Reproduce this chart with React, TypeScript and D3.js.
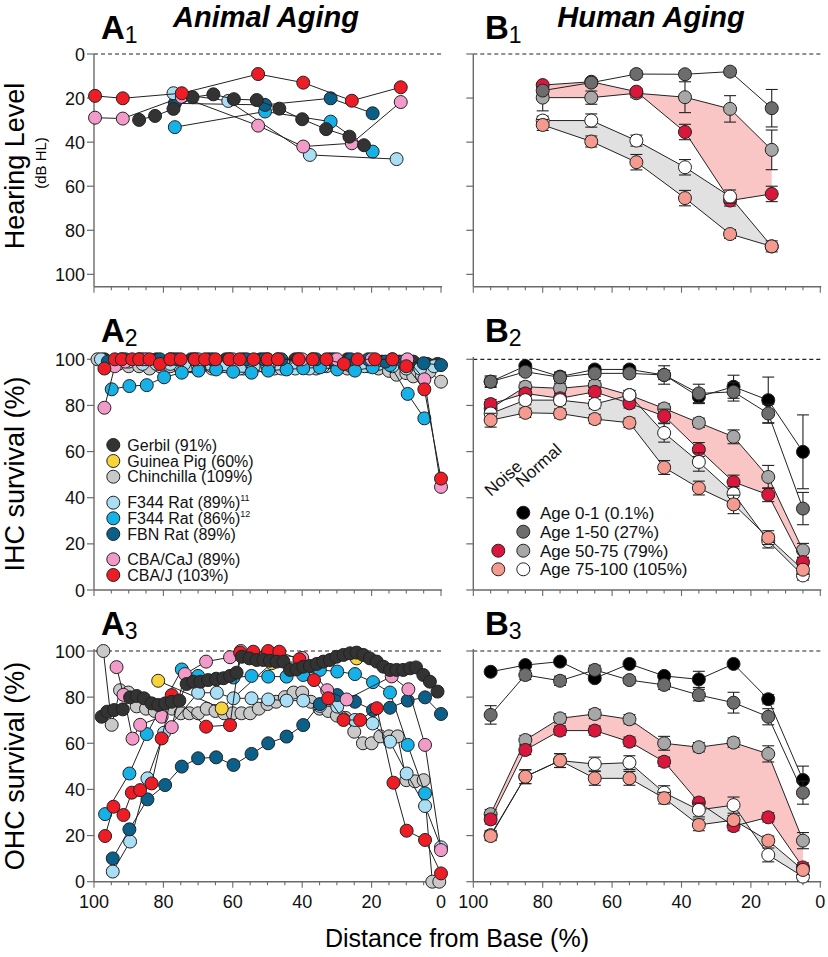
import React from 'react';
import * as d3 from 'd3';

// ---------- tick labels ----------
const xTickLabels = [100, 80, 60, 40, 20, 0];
const yTicks = [0, 20, 40, 60, 80, 100];

// ---------- Panel A1 : Hearing level (dB HL) ----------
const gerbilA1_d = [87, 82.4, 77.1, 71.6, 65.6, 59.7, 53.1, 46.6, 40, 33.1, 26.4, 22.2];
const gerbilA1_v = [29.9, 28.1, 24.9, 19.6, 18.3, 20.5, 20.9, 24.8, 29.6, 34.1, 37.5, 41.4];
const f344aA1_d = [77.1, 61.3, 37.8, 12.8];
const f344aA1_v = [17.8, 21.3, 45.8, 47.7];
const f344bA1_d = [76.7, 50.7, 31.8, 19.7];
const f344bA1_v = [33.2, 26.1, 30.7, 44.3];
const fbnA1_d = [76.7, 50.7, 31.8, 19.7];
const fbnA1_v = [22.4, 23.1, 20.1, 26.9];
const cajA1_d = [99.7, 91.7, 74.7, 52.7, 39.7, 25.7, 11.6];
const cajA1_v = [28.9, 29.3, 19.5, 32.5, 42, 40.5, 21.8];
const cbajA1_d = [99.7, 91.7, 74.7, 52.7, 39.7, 25.7, 11.6];
const cbajA1_v = [19, 20.1, 17.8, 9.1, 13, 21.2, 15.1];

// ---------- Panel A2 : IHC survival ----------
const gerbilA2_d = [97, 92, 87, 82, 77, 72, 67, 62, 57, 52, 47, 42, 37, 32, 27, 22, 17, 12, 8, 4, 1];
const gerbilA2_v = [100, 100, 100, 100, 100, 100, 100, 100, 100, 100, 100, 100, 100, 100, 100, 99, 99, 99, 99, 98, 98];
const chinA2_d = [99, 96, 93, 90, 87, 84, 81, 78, 75, 72, 69, 66, 63, 60, 57, 54, 51, 48, 45, 42, 39, 36, 33, 30, 27, 24, 21, 18, 15, 12.8, 10, 8, 5.5, 3.3, 0];
const chinA2_v = [100, 99, 98, 97, 97, 96, 97, 97, 96, 97, 97, 96, 97, 97, 96, 97, 97, 96, 96, 97, 97, 96, 97, 97, 96, 97, 97, 96, 95, 93.3, 94, 92.6, 93, 94.6, 90.3];
const f344aA2_d = [98, 94, 90, 86, 82, 78, 74, 70, 66, 62, 58, 54, 50, 46, 42, 38, 34, 30, 26, 22, 18, 14, 10, 6, 2];
const f344aA2_v = [100, 99, 99, 98, 98, 98, 98, 97, 97, 97, 96, 97, 97, 96, 96, 96, 97, 97, 97, 97, 98, 97, 96, 96, 97];
const f344bA2_d = [94.9, 89.8, 84.8, 79.8, 74.7, 69.9, 64.8, 59.9, 54.6, 49.8, 44.5, 39.7, 34.9, 29.9, 24.8, 19.7, 14.7, 9.6, 4.8];
const f344bA2_v = [87, 88.4, 88.8, 92.2, 94.2, 95.1, 95.6, 94.6, 94.2, 95.1, 95.6, 96.1, 96.5, 95.6, 95.1, 96.5, 97.5, 85, 74.4];
const fbnA2_d = [96, 91, 86, 81, 76, 71, 66, 61, 56, 51, 46, 41, 36, 31, 26, 21, 16, 11, 5, 0];
const fbnA2_v = [99, 100, 100, 100, 100, 100, 100, 100, 100, 100, 100, 100, 100, 100, 100, 100, 99, 99, 98.3, 97.5];
const cajA2_d = [97, 94, 91, 85, 78, 70, 60, 50, 40, 30, 20, 14, 9.7, 4.8, 0];
const cajA2_v = [79, 97, 99, 100, 100, 100, 100, 100, 100, 100, 100, 100, 100, 91.3, 44.7];
const cbajA2_d = [97, 94, 92, 89, 87, 84, 81, 78, 75, 71, 68, 65, 61, 58, 54, 50, 47, 41, 37, 33, 28, 24, 19, 14, 10, 4.8, 0];
const cbajA2_v = [96, 100, 100, 100, 100, 100, 98, 100, 100, 100, 100, 100, 100, 100, 100, 100, 100, 100, 100, 100, 98, 100, 100, 100, 97, 87, 48.3];

// ---------- Panel A3 : OHC survival ----------
const gerbilA3_d = [97.8, 96.2, 94.2, 91.7, 89.6, 87.7, 85.6, 83.4, 81.5, 79.5, 77.6, 75.4, 73.3, 71.4, 69.3, 67.1, 64.8, 62.7, 60.8, 58.9, 57.4, 55.2, 53.1, 51.2, 49.3, 47.4, 45.4, 43.5, 41.6, 39.7, 37.8, 35.8, 33.9, 32, 30.1, 28.1, 26.2, 24.3, 22.4, 20.5, 18.5, 16.6, 14.7, 12.8, 10.9, 8.9, 7.2, 5.1, 3.2, 1];
const gerbilA3_v = [71.5, 73.7, 74.4, 74.7, 79.9, 80.5, 79.5, 77.3, 76.6, 77.3, 78, 78.5, 85.7, 86.7, 86.7, 87.4, 87.7, 88.2, 89.2, 90.6, 97.5, 96.8, 96.1, 96.1, 95.8, 95.4, 95.4, 91.8, 92.1, 93.2, 93.5, 94.4, 95.4, 96.1, 97.5, 98.3, 99, 99.3, 98.3, 96.8, 95.4, 93.2, 91.8, 91.8, 91.8, 92.5, 92.9, 89.6, 86.7, 82.4];
const chinA3_d = [97.3, 94.9, 92.5, 90.1, 87.7, 85, 82.5, 80, 77.5, 75, 72.5, 70, 67.5, 65, 62.5, 60, 57.5, 55, 52.5, 50, 47.5, 45, 42.5, 40, 37.5, 35, 32.5, 30, 27.5, 25, 22.5, 20, 17.5, 15, 12.5, 10, 7.5, 5, 2.5, 0.5];
const chinA3_v = [100, 68, 83, 82, 76, 75, 74, 76, 75, 73, 73, 73, 75, 74, 73, 73, 73, 73, 75, 77, 78, 80, 82, 82, 78, 75, 74, 72, 71, 65, 60, 60, 63, 63, 63, 44, 43.5, 44, 0, 0];
const guineaA3_d = [81.5, 63.2, 48.8, 24.3];
const guineaA3_v = [87.1, 75.1, 94.7, 96.8];
const f344aA3_d = [94.6, 89.6, 84.6, 79.8, 70, 64.6, 59.8, 54.6, 49.8, 44.5, 39.7, 34.9, 29.9, 24.8, 19.7, 14.7, 9.9, 4.6, 0];
const f344aA3_v = [4.4, 17.4, 44.8, 64.6, 81.9, 81.9, 79.5, 79.5, 79, 78.5, 78.5, 76.2, 75.9, 70.1, 68.6, 60.7, 46.9, 32.8, 14.9];
const f344bA3_d = [96.8, 89.8, 84.8, 74.7, 70, 64.8, 59.8, 54.6, 49.8, 44.5, 39.7, 34.9, 29.9, 24.8, 19.6, 14.7, 9.6, 4.6];
const f344bA3_v = [29.3, 46.9, 64, 92, 89.2, 88, 88.5, 89.2, 88.9, 88.9, 89.6, 91.8, 91.1, 90, 86.5, 82, 59.3, 38.3];
const fbnA3_d = [94.6, 89.8, 84.6, 79.5, 74.7, 70, 64.8, 59.8, 54.6, 49.8, 44.5, 39.7, 34.9, 29.9, 24.8, 19.6, 14.7, 9.6, 4.6, 0];
const fbnA3_v = [10.1, 22.7, 35.7, 41.9, 49.9, 53.5, 53.9, 50.6, 55.4, 60, 62.9, 67.9, 77, 80.9, 78, 74.4, 75.4, 78.5, 79.9, 72.7];
const cajA3_d = [93.5, 91.5, 88.9, 86.7, 80.5, 77.6, 73.8, 67.7, 60.8, 57.7, 50, 40, 32.8, 27.2, 14.2, 9.4, 4.6, 0];
const cajA3_v = [93, 81, 62, 68, 71.5, 67, 90, 95.4, 97.3, 100, 99, 97, 83, 79, 89, 83.4, 59.3, 13.7];
const cbajA3_d = [96.8, 94.4, 91.5, 89.1, 86.7, 83.4, 80.5, 77.6, 67.7, 60.8, 57.9, 54.1, 49.8, 46.6, 40.8, 36.6, 32.5, 28.1, 23.3, 18.5, 13.7, 9.9, 4.6, 0];
const cbajA3_v = [19.8, 32.5, 28.9, 38.6, 39.7, 42.6, 62.1, 80.9, 67.2, 67.9, 99.3, 99.7, 100, 99.7, 96.4, 87.4, 79.5, 70.1, 70.1, 75.2, 42.9, 22.1, 18.1, 3.6];

// ---------- Human panels ----------
const humanB1_d = [80, 66, 53, 39, 26, 14];
const humanB_d = [95, 85, 75, 65, 55, 45, 35, 25, 15, 5];

const b1_age150 = [16.6, 13, 9.1, 9.2, 8, 24.6];
const b1_age150_e = [1.5, 1.5, 1.5, 1.5, 1.5, 8.5];
const b1_norm50 = [19.8, 19.8, 17.8, 19.6, 24.9, 43.5];
const b1_norm50_e = [6, 3, 2, 7, 6, 9];
const b1_noise50 = [14.1, 12.6, 17.1, 35.4, 66.5, 63.5];
const b1_noise50_e = [1, 1, 1, 3.5, 2.5, 3.5];
const b1_norm75 = [30.2, 30.2, 39.3, 51.4, 64.7, 87.3];
const b1_norm75_e = [2, 3, 2.5, 3.5, 3, 1.5];
const b1_noise75 = [32.2, 39.7, 49.1, 65.4, 81.7, 87.3];
const b1_noise75_e = [2.5, 2.5, 3.5, 3.5, 2, 2.5];

const b2_age01 = [90.3, 97.1, 92.5, 95.6, 95.6, 93.2, 83.8, 88.1, 82.3, 59.9];
const b2_age01_e = [2, 1, 2, 1.5, 1.5, 4, 3, 5, 10, 16];
const b2_age150 = [90.3, 94.6, 92.2, 93.9, 93.9, 93.2, 85.2, 85.9, 76.5, 35.3];
const b2_age150_e = [2.5, 1.5, 2, 1.5, 1.5, 2, 4, 4, 4, 7];
const b2_norm50 = [78.7, 88.1, 87.4, 88.8, 84.5, 78.7, 72.5, 66.4, 49, 17.2];
const b2_norm50_e = [3, 2, 2, 2, 2, 2, 2, 3, 5, 3];
const b2_noise50 = [80.6, 85.2, 83.1, 85.9, 80.9, 75.4, 60.9, 46.8, 41.3, 12.1];
const b2_noise50_e = [2, 2, 2, 2, 2, 3, 3, 3, 3, 2];
const b2_norm75 = [76.5, 82.3, 82.3, 80.6, 84.5, 68.1, 55.5, 41.8, 21.2, 6.3];
const b2_norm75_e = [2, 2, 2, 2, 2, 4, 4, 3, 3, 2];
const b2_noise75 = [73.6, 76.8, 76.5, 74.1, 72.5, 53.1, 44.2, 37.1, 22.7, 8.8];
const b2_noise75_e = [3, 2, 2, 2, 2, 3, 3, 4, 3, 2];

const b3_age01 = [91, 93.9, 95.4, 88.2, 94.4, 89.2, 87.7, 94.4, 79.1, 44.1];
const b3_age01_e = [1, 1, 1, 1, 1, 1, 3.5, 1, 2, 6];
const b3_age150 = [72.3, 89.6, 87.1, 91.8, 87.4, 85.3, 80.9, 77.6, 71.5, 38.6];
const b3_age150_e = [4, 2, 2, 2, 1.5, 2, 2.5, 4.5, 3.5, 5];
const b3_norm50 = [29.3, 61.4, 70.8, 72.7, 70.4, 60, 58.3, 60.3, 55.4, 17.8];
const b3_norm50_e = [2, 2, 2, 2, 2, 3, 2, 2, 3.5, 3.5];
const b3_noise50 = [27, 57.1, 65.5, 65.5, 60.7, 52, 34.3, 24.1, 27.9, 6.2];
const b3_noise50_e = [2, 2, 2, 2, 2, 2, 2, 2, 2, 2];
const b3_norm75 = [20.2, 45.5, 52.5, 51, 51.6, 38.6, 31.1, 33.2, 11.6, 2.2];
const b3_norm75_e = [2, 3, 3, 3, 3, 3, 3, 3.5, 3, 2];
const b3_noise75 = [19.8, 45.5, 52.5, 44.8, 44.8, 36.2, 24.6, 26.7, 17.8, 5.1];
const b3_noise75_e = [2, 3, 3, 3, 3, 2.5, 2.5, 2, 2, 2];

// ---------- legends ----------
const animalLegend = ['Gerbil (91%)', 'Guinea Pig (60%)', 'Chinchilla (109%)', 'F344 Rat (89%)', 'F344 Rat (86%)', 'FBN Rat (89%)', 'CBA/CaJ (89%)', 'CBA/J (103%)'];
const animalLegendSup = ['', '', '', '11', '12', '', '', ''];
const humanLegend = ['Age 0-1 (0.1%)', 'Age 1-50 (27%)', 'Age 50-75 (79%)', 'Age 75-100 (105%)'];

// ---------- colours ----------
const C = {
  gerbil: '#333333', guinea: '#f7d43a', chin: '#c9c9c9', f344a: '#a9def5', f344b: '#16b1e6',
  fbn: '#0b6089', caj: '#f29bc9', cbaj: '#ee1c25',
  age01: '#000000', age150: '#6d6d6d', norm50: '#a7a7a7', noise50: '#d9163c', norm75: '#ffffff', noise75: '#f59a8f',
  fillPink: '#f9c5c5', fillGray: '#e1e1e1',
};
const animalLegendColors = [C.gerbil, C.guinea, C.chin, C.f344a, C.f344b, C.fbn, C.caj, C.cbaj];
const humanNormalColors = [C.age01, C.age150, C.norm50, C.norm75];
const humanNoiseColors = [null, null, C.noise50, C.noise75];

const FONT = "'Liberation Sans', Arial, Helvetica, sans-serif";
const AXIS = '#6a6a6a';
const R = 6.5;

// ---------- scales ----------
const xA = d3.scaleLinear().domain([100, 0]).range([94, 441]);
const xB = d3.scaleLinear().domain([100, 0]).range([473.3, 820.3]);
const y1 = d3.scaleLinear().domain([0, 105.6]).range([54, 286.7]);
const y2 = d3.scaleLinear().domain([0, 100]).range([590, 359.3]);
const y3 = d3.scaleLinear().domain([0, 100]).range([881.7, 651]);

type Ser = { d: number[]; v: number[]; c: string; e?: number[] };

function SeriesG({ x, y, s }: { x: any; y: any; s: Ser }) {
  const line = d3.line<number>().x((_, i) => x(s.d[i])).y((val) => y(val));
  return (
    <g>
      <path d={line(s.v) || ''} fill="none" stroke="#222" strokeWidth={1} />
      {s.e && s.v.map((val, i) => {
        const cx = x(s.d[i]);
        const ya = y(val - s.e![i]);
        const yb = y(val + s.e![i]);
        return (
          <g key={'e' + i} stroke="#222" strokeWidth={1.1}>
            <line x1={cx} x2={cx} y1={ya} y2={yb} />
            <line x1={cx - 6} x2={cx + 6} y1={ya} y2={ya} />
            <line x1={cx - 6} x2={cx + 6} y1={yb} y2={yb} />
          </g>
        );
      })}
      {s.v.map((val, i) => (
        <circle key={'p' + i} cx={x(s.d[i])} cy={y(val)} r={R} fill={s.c} stroke="#222" strokeWidth={1} />
      ))}
    </g>
  );
}

function Axes({ x, y, yTop, yBot, dashV, yLabels, xLabels }: { x: any; y: any; yTop: number; yBot: number; dashV: number; yLabels: boolean; xLabels: boolean }) {
  const x0 = x(100);
  const x1 = x(0);
  const minor = d3.range(0, 101, 5);
  return (
    <g>
      <line x1={x0} x2={x1} y1={y(dashV)} y2={y(dashV)} stroke="#222" strokeWidth={1.2} strokeDasharray="4 3" />
      <line x1={x0} x2={x0} y1={yTop} y2={yBot} stroke={AXIS} strokeWidth={1.4} />
      <line x1={x0} x2={x1 + 1} y1={yBot} y2={yBot} stroke={AXIS} strokeWidth={1.4} />
      {yTicks.map((t) => (
        <g key={'yt' + t}>
          <line x1={x0 - 7} x2={x0} y1={y(t)} y2={y(t)} stroke={AXIS} strokeWidth={1.2} />
          {yLabels && (
            <text x={x0 - 9} y={y(t) + 6.5} textAnchor="end" fontSize={18} fontFamily={FONT} fill="#111">{t}</text>
          )}
        </g>
      ))}
      {minor.map((t) => (
        <line key={'xt' + t} x1={x(t)} x2={x(t)} y1={yBot} y2={yBot + (t % 20 === 0 ? 6 : 3.5)} stroke={AXIS} strokeWidth={1.1} />
      ))}
      {xLabels && xTickLabels.map((t) => (
        <text key={'xl' + t} x={x(t)} y={yBot + 26} textAnchor="middle" fontSize={18} fontFamily={FONT} fill="#111">{t}</text>
      ))}
    </g>
  );
}

function PanelLetter({ x, y, letter, sub }: { x: number; y: number; letter: string; sub: string }) {
  return (
    <text x={x} y={y} fontFamily={FONT} fontWeight="bold" fontSize={33} fill="#000">
      {letter}
      <tspan fontSize={23} fontWeight="normal" dy={4}>{sub}</tspan>
    </text>
  );
}

function HumanPanel({ x, y, d, rows, fills }: { x: any; y: any; d: number[]; rows: Ser[]; fills: [number[], number[], string][] }) {
  return (
    <g>
      {fills.map(([a, b, col], k) => {
        const area = d3.area<number>().x((_, i) => x(d[i])).y0((_, i) => y(a[i])).y1((_, i) => y(b[i]));
        return <path key={'f' + k} d={area(a) || ''} fill={col} stroke="none" />;
      })}
      {rows.map((s, k) => <SeriesG key={k} x={x} y={y} s={s} />)}
    </g>
  );
}

export default function App() {
  const A1: Ser[] = [
    { d: f344bA1_d, v: f344bA1_v, c: C.f344b },
    { d: fbnA1_d, v: fbnA1_v, c: C.fbn },
    { d: f344aA1_d, v: f344aA1_v, c: C.f344a },
    { d: cajA1_d, v: cajA1_v, c: C.caj },
    { d: gerbilA1_d, v: gerbilA1_v, c: C.gerbil },
    { d: cbajA1_d, v: cbajA1_v, c: C.cbaj },
  ];
  const A2: Ser[] = [
    { d: gerbilA2_d, v: gerbilA2_v, c: C.gerbil },
    { d: chinA2_d, v: chinA2_v, c: C.chin },
    { d: f344aA2_d, v: f344aA2_v, c: C.f344a },
    { d: f344bA2_d, v: f344bA2_v, c: C.f344b },
    { d: fbnA2_d, v: fbnA2_v, c: C.fbn },
    { d: cajA2_d, v: cajA2_v, c: C.caj },
    { d: cbajA2_d, v: cbajA2_v, c: C.cbaj },
  ];
  const A3: Ser[] = [
    { d: chinA3_d, v: chinA3_v, c: C.chin },
    { d: guineaA3_d, v: guineaA3_v, c: C.guinea },
    { d: f344aA3_d, v: f344aA3_v, c: C.f344a },
    { d: f344bA3_d, v: f344bA3_v, c: C.f344b },
    { d: fbnA3_d, v: fbnA3_v, c: C.fbn },
    { d: cajA3_d, v: cajA3_v, c: C.caj },
    { d: cbajA3_d, v: cbajA3_v, c: C.cbaj },
    { d: gerbilA3_d, v: gerbilA3_v, c: C.gerbil },
  ];
  const B1: Ser[] = [
    { d: humanB1_d, v: b1_norm50, c: C.norm50, e: b1_norm50_e },
    { d: humanB1_d, v: b1_noise50, c: C.noise50, e: b1_noise50_e },
    { d: humanB1_d, v: b1_norm75, c: C.norm75, e: b1_norm75_e },
    { d: humanB1_d, v: b1_noise75, c: C.noise75, e: b1_noise75_e },
    { d: humanB1_d, v: b1_age150, c: C.age150, e: b1_age150_e },
  ];
  const B2: Ser[] = [
    { d: humanB_d, v: b2_norm50, c: C.norm50, e: b2_norm50_e },
    { d: humanB_d, v: b2_noise50, c: C.noise50, e: b2_noise50_e },
    { d: humanB_d, v: b2_norm75, c: C.norm75, e: b2_norm75_e },
    { d: humanB_d, v: b2_noise75, c: C.noise75, e: b2_noise75_e },
    { d: humanB_d, v: b2_age01, c: C.age01, e: b2_age01_e },
    { d: humanB_d, v: b2_age150, c: C.age150, e: b2_age150_e },
  ];
  const B3: Ser[] = [
    { d: humanB_d, v: b3_norm50, c: C.norm50, e: b3_norm50_e },
    { d: humanB_d, v: b3_noise50, c: C.noise50, e: b3_noise50_e },
    { d: humanB_d, v: b3_norm75, c: C.norm75, e: b3_norm75_e },
    { d: humanB_d, v: b3_noise75, c: C.noise75, e: b3_noise75_e },
    { d: humanB_d, v: b3_age01, c: C.age01, e: b3_age01_e },
    { d: humanB_d, v: b3_age150, c: C.age150, e: b3_age150_e },
  ];

  const legY = [445, 461, 476.7, 502.7, 518.3, 534, 559.3, 575];
  const hLegY = [512.7, 531.7, 550.7, 569.3];

  return (
    <svg width={828} height={957} style={{ position: 'absolute', left: 0, top: 0, background: '#fff' }} fontFamily={FONT}>
      <rect x={0} y={0} width={828} height={957} fill="#fff" />

      {/* titles */}
      <text x={266} y={27} textAnchor="middle" fontSize={29} fontWeight="bold" fontStyle="italic">Animal Aging</text>
      <text x={651} y={27} textAnchor="middle" fontSize={29} fontWeight="bold" fontStyle="italic">Human Aging</text>
      <PanelLetter x={101} y={39} letter="A" sub="1" />
      <PanelLetter x={485} y={39} letter="B" sub="1" />
      <PanelLetter x={101} y={342} letter="A" sub="2" />
      <PanelLetter x={485} y={342} letter="B" sub="2" />
      <PanelLetter x={101} y={635} letter="A" sub="3" />
      <PanelLetter x={485} y={635} letter="B" sub="3" />

      {/* y axis titles */}
      <text transform="translate(24,166) rotate(-90)" textAnchor="middle" fontSize={27}>Hearing Level</text>
      <text transform="translate(46,163) rotate(-90)" textAnchor="middle" fontSize={15}>(dB HL)</text>
      <text transform="translate(24,474) rotate(-90)" textAnchor="middle" fontSize={27}>IHC survival (%)</text>
      <text transform="translate(24,766) rotate(-90)" textAnchor="middle" fontSize={27}>OHC survival (%)</text>
      <text x={457} y={947} textAnchor="middle" fontSize={25}>Distance from Base (%)</text>

      {/* axes */}
      <Axes x={xA} y={y1} yTop={54} yBot={286.7} dashV={0} yLabels={true} xLabels={false} />
      <Axes x={xB} y={y1} yTop={54} yBot={286.7} dashV={0} yLabels={false} xLabels={false} />
      <Axes x={xA} y={y2} yTop={357} yBot={590} dashV={100} yLabels={true} xLabels={false} />
      <Axes x={xB} y={y2} yTop={357} yBot={590} dashV={100} yLabels={false} xLabels={false} />
      <Axes x={xA} y={y3} yTop={649} yBot={881.7} dashV={100} yLabels={true} xLabels={true} />
      <Axes x={xB} y={y3} yTop={649} yBot={881.7} dashV={100} yLabels={false} xLabels={true} />

      {/* animal data */}
      {A1.map((s, k) => <SeriesG key={'a1' + k} x={xA} y={y1} s={s} />)}
      {A2.map((s, k) => <SeriesG key={'a2' + k} x={xA} y={y2} s={s} />)}
      {A3.map((s, k) => <SeriesG key={'a3' + k} x={xA} y={y3} s={s} />)}

      {/* human data */}
      <HumanPanel x={xB} y={y1} d={humanB1_d} rows={B1} fills={[[b1_norm50, b1_noise50, C.fillPink], [b1_norm75, b1_noise75, C.fillGray]]} />
      <HumanPanel x={xB} y={y2} d={humanB_d} rows={B2} fills={[[b2_norm50, b2_noise50, C.fillPink], [b2_norm75, b2_noise75, C.fillGray]]} />
      <HumanPanel x={xB} y={y3} d={humanB_d} rows={B3} fills={[[b3_norm50, b3_noise50, C.fillPink], [b3_norm75, b3_noise75, C.fillGray]]} />

      {/* animal legend */}
      {animalLegend.map((t, i) => (
        <g key={'al' + i}>
          <circle cx={113.3} cy={legY[i]} r={6.5} fill={animalLegendColors[i]} stroke="#222" strokeWidth={1} />
          <text x={127.3} y={legY[i] + 5.5} fontSize={16} fill="#111">
            {t}
            {animalLegendSup[i] && <tspan fontSize={9} dy={-7}>{animalLegendSup[i]}</tspan>}
          </text>
        </g>
      ))}

      {/* human legend */}
      <text transform="translate(491,497) rotate(-42)" fontSize={17} fill="#111">Noise</text>
      <text transform="translate(522,488) rotate(-42)" fontSize={17} fill="#111">Normal</text>
      {humanLegend.map((t, i) => (
        <g key={'hl' + i}>
          {humanNoiseColors[i] && <circle cx={498.3} cy={hLegY[i]} r={6.5} fill={humanNoiseColors[i]!} stroke="#222" strokeWidth={1} />}
          <circle cx={523.3} cy={hLegY[i]} r={6.5} fill={humanNormalColors[i]} stroke="#222" strokeWidth={1} />
          <text x={540} y={hLegY[i] + 6} fontSize={17} fill="#111">{t}</text>
        </g>
      ))}
    </svg>
  );
}
